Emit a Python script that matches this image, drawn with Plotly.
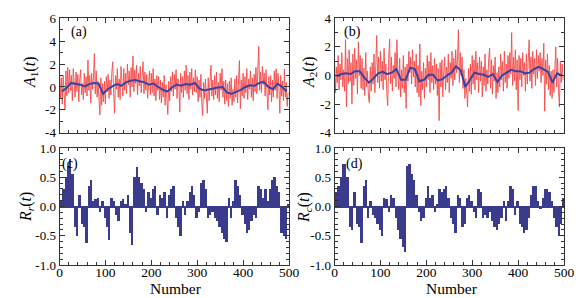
import plotly.graph_objects as go

# ---------------- data ----------------
x_raw = list(range(0, 500, 2))

a1_raw = [
    1.2, -1.0, 0.8, -1.5, 1.0, -0.6, -2.0, 1.4, -0.8, 1.7,
    -0.5, 1.5, -0.3, 1.0, -1.2, 1.6, 0.0, -0.9, 1.3, -0.4,
    1.1, -1.3, 0.6, 1.5, -0.7, 0.3, -1.1, 1.2, -0.5, 0.9,
    -0.8, 2.35, -0.3, 1.0, -1.4, 1.2, -0.2, 0.7, 2.9, -0.6,
    1.4, -0.9, 0.5, -1.2, -2.45, 0.8, -1.6, 0.3, -1.3, 0.5,
    -1.5, 0.9, -0.4, 1.1, -1.0, 0.6, -0.7, 1.3, 2.2, -0.5,
    -2.3, 1.0, -0.2, 1.6, -0.9, 0.7, -1.1, 1.8, 0.1, -0.8,
    1.6, -0.3, 1.2, -0.6, 2.0, 0.2, 1.4, -0.9, 1.7, 0.0,
    2.7, -0.4, 1.5, 0.3, 1.9, -0.7, 1.2, 0.1, 1.8, -0.5,
    0.9, 2.2, -0.6, 1.3, -0.3, 1.1, -1.0, 0.8, 1.4, -0.7,
    1.2, -0.5, 1.6, -0.8, 0.7, -1.2, 1.0, -0.3, 0.9, -1.1,
    0.6, -1.4, 0.4, -0.9, 1.0, -1.6, 0.2, -1.0, -2.4, 0.5,
    -1.2, 0.9, -0.4, 1.3, -0.8, 1.1, -0.2, 1.5, -1.0, 0.7,
    0.2, -2.2, 1.2, -0.5, 0.9, -0.9, 1.4, -0.3, 1.9, -0.6,
    1.0, -1.1, 1.3, -0.2, 1.6, -0.7, 0.8, -0.4, 1.5, -0.5,
    0.9, -1.3, 0.6, -0.9, 1.1, -1.5, -2.5, 0.4, -1.0, 0.7,
    -0.6, -2.3, 0.8, -1.2, 0.5, 1.9, -0.8, 0.6, -1.1, 1.0,
    -0.7, 1.3, -1.0, 0.4, -1.3, 1.2, -0.3, 1.6, -0.9, 0.5,
    -1.5, 0.6, -1.2, 0.3, -1.7, 0.5, -1.0, 0.8, -1.6, -0.2,
    -1.3, 0.7, -0.9, 1.0, -1.4, 0.4, 2.3, -1.9, 0.6, -0.8,
    1.2, -1.0, 0.9, -0.5, 1.6, -1.1, 0.7, -0.2, 1.4, -0.9,
    0.8, -1.2, 1.1, -0.4, 1.7, -0.6, 0.9, 3.55, -0.3, 1.3,
    -0.5, 1.8, 0.2, 1.2, -0.8, 1.5, -0.4, -2.0, 0.9, -0.7,
    1.0, -1.3, 0.6, -0.9, 1.4, -0.3, 1.6, -1.0, 1.2, 0.1,
    -2.3, 1.0, -0.8, 0.5, -1.2, 1.55, -0.9, 0.4, -1.7, -0.5,
]

a2_raw = [
    1.0, -1.2, 0.6, -0.5, 1.4, -1.0, 0.8, -0.3, 1.6, -0.8,
    0.4, -1.1, 2.5, -2.2, 1.2, -0.6, 1.8, -0.4, 0.9, -2.0,
    1.5, -0.7, 1.9, -0.2, 1.1, -1.3, 2.35, 0.0, 1.4, -0.9,
    1.2, -1.0, 0.5, -1.4, 1.6, -0.8, 0.3, -1.6, -1.9, 0.6,
    -1.1, 0.9, -0.6, 1.5, -1.2, 0.4, 2.8, -0.5, 1.3, -0.9,
    1.7, -0.4, 1.0, -1.0, 1.9, -0.3, 0.8, -1.3, -2.1, 1.1,
    2.55, -0.6, 1.3, -1.1, 0.7, -0.2, 1.6, -0.8, 2.5, 0.2,
    -1.0, 1.2, -1.5, 0.4, -0.9, 1.4, -1.2, 0.6, -2.3, 0.8,
    -0.4, 1.7, 0.2, 1.3, -0.6, 1.8, -0.1, 1.0, -0.8, 1.5,
    -1.2, 0.7, -1.5, 2.2, -2.1, 0.3, -1.0, 0.9, -1.6, 0.5,
    -0.8, 1.4, -0.3, 1.0, -1.2, 1.6, -0.5, 0.7, -1.0, 1.2,
    -0.6, 0.8, -1.4, 0.5, -3.15, 0.9, -0.8, 1.1, -1.5, 0.3,
    1.3, -1.0, 0.6, -0.5, 1.5, -1.2, 0.9, -0.2, 1.7, -0.7,
    1.2, -0.3, 1.8, 0.2, 1.1, 3.2, -0.5, 1.6, 0.0, 1.3,
    -0.9, 0.4, -1.6, -0.2, -1.4, -2.2, 0.5, -1.1, 0.8, -1.3,
    1.4, -0.6, 1.1, -1.0, 1.7, -0.3, 0.9, -1.2, 1.3, -0.4,
    1.0, -1.5, 0.6, -0.7, 1.5, -1.1, 0.4, -0.6, 1.2, 1.9,
    -0.9, 1.1, -1.3, 0.7, -0.4, 1.3, -1.6, 0.2, -1.2, 0.6,
    -0.8, 1.5, -0.3, 1.0, -1.1, 1.7, -0.5, 0.8, -0.9, 1.4,
    -0.2, 1.6, 0.1, 3.0, -0.7, 1.3, -0.4, 1.8, -1.0, 1.1,
    -2.45, 1.4, -0.3, 1.2, -0.8, 1.6, 0.0, 0.9, -1.1, 1.5,
    -0.6, 1.0, 2.5, -0.4, 1.3, -0.9, 1.7, 0.1, 1.2, -0.7,
    1.8, -0.2, 1.4, 0.3, 1.6, -0.5, 1.2, 0.0, 2.25, -2.5,
    1.1, -0.6, 1.5, -1.0, 0.7, -1.4, 0.3, -1.6, 0.4, -1.2,
    0.9, 2.0, -0.8, 1.2, -1.0, -2.2, 1.0, -0.5, 0.8, -0.3,
]

x_smooth = list(range(5, 500, 10))

a1_smooth = [
    -0.4, -0.1, 0.35, 0.3, 0.2, 0.05, 0.25, 0.35, 0.3, -0.6,
    -0.2, 0.05, 0.25, 0.1, 0.4, 0.55, 0.6, 0.5, 0.4, 0.2,
    0.3, 0.0, -0.25, -0.4, -0.05, 0.2, 0.1, 0.25, 0.2, 0.35,
    -0.15, -0.3, -0.2, -0.1, -0.05, 0.0, -0.5, -0.6, -0.45, -0.25,
    0.0, 0.15, 0.1, 0.35, 0.45, 0.0, -0.2, 0.3, 0.0, -0.4,
]

a2_smooth = [
    -0.05, 0.1, 0.15, 0.1, 0.3, 0.3, -0.15, -0.5, -0.2, 0.15,
    0.25, 0.1, 0.2, 0.45, -0.3, -0.3, 0.55, 0.45, -0.4, -0.3,
    0.05, 0.05, -0.35, -0.25, 0.0, 0.2, 0.65, 0.35, -0.8, -0.3,
    0.2, 0.1, 0.05, -0.1, 0.1, -0.45, 0.0, 0.2, 0.4, 0.3,
    0.3, 0.15, 0.2, 0.45, 0.6, 0.45, 0.25, -0.5, 0.15, 0.0,
]

x_bar = [2.5 + 5 * k for k in range(100)]

r1 = [
    0.1, 0.3, 0.5, 0.7, 0.82, 0.55, -0.35, -0.5, 0.2, -0.3,
    -0.35, -0.62, 0.35, 0.45, 0.1, 0.12, 0.15, -0.1, 0.1, -0.2,
    -0.35, -0.57, 0.15, 0.1, -0.15, -0.25, 0.1, 0.12, 0.05, 0.2,
    -0.45, -0.65, 0.5, 0.68, 0.5, 0.4, 0.3, -0.1, 0.25, 0.15,
    0.3, 0.35, -0.15, 0.2, 0.15, 0.25, -0.2, 0.2, 0.3, 0.35,
    -0.2, -0.35, -0.5, 0.1, -0.15, 0.1, 0.25, 0.35, 0.2, -0.2,
    -0.1, 0.4, 0.45, 0.3, -0.2, -0.15, -0.1, -0.2, -0.25, -0.35,
    -0.45, -0.55, -0.6, 0.15, -0.2, 0.1, 0.45, 0.35, 0.2, -0.15,
    -0.3, -0.45, -0.4, -0.25, -0.15, -0.2, 0.35, 0.3, 0.15, 0.3,
    0.1, 0.3, 0.45, 0.5, 0.35, 0.25, -0.45, -0.5, -0.55, 0.05,
]

r2 = [
    0.25, 0.35, 0.5, 0.72, 0.73, 0.5, -0.35, -0.4, 0.25, -0.3,
    -0.35, -0.62, 0.35, 0.45, -0.2, 0.1, -0.15, -0.2, -0.3, -0.4,
    -0.5, 0.15, 0.12, -0.1, 0.2, 0.15, -0.2, -0.4, -0.55, -0.7,
    -0.78, 0.7, 0.72, 0.55, 0.45, 0.2, -0.1, -0.25, -0.2, 0.15,
    0.35, 0.15, 0.2, -0.1, 0.05, 0.3, 0.25, 0.3, 0.35, 0.15,
    -0.2, -0.3, -0.45, 0.2, 0.15, -0.35, -0.3, 0.15, 0.2, 0.1,
    -0.1, -0.2, 0.3, 0.25, -0.2, -0.15, -0.2, -0.1, -0.25, -0.35,
    -0.4, -0.3, -0.2, 0.1, -0.25, 0.1, 0.35, 0.3, -0.15, 0.1,
    -0.3, -0.35, -0.45, -0.4, -0.2, 0.2, 0.35, 0.35, 0.1, -0.05,
    0.15, 0.3, 0.3, 0.25, 0.1, -0.2, -0.35, -0.5, -0.3, 0.15,
]

x_ticks = [0, 100, 200, 300, 400, 500]
x_ticktext = ["0", "100", "200", "300", "400", "500"]
a_ticks = [-4, -2, 0, 2, 4, 6]
a1_ticktext = ["-4", "-2", "0", "2", "4", "6"]
a2_ticks = [-4, -2, 0, 2, 4]
a2_ticktext = ["-4", "-2", "0", "2", "4"]
r_ticks = [-1.0, -0.5, 0.0, 0.5, 1.0]
r_ticktext = ["-1.0", "-0.5", "0.0", "0.5", "1.0"]

# ---------------- styles ----------------
RED = "#f42a2a"
BLUE_LINE = "#3a44a0"
BAR = "#3b3b8e"
FONT = "Liberation Serif"
W, H = 586, 298

fig = go.Figure()

fig.add_trace(go.Scatter(x=x_raw, y=a1_raw, mode="lines",
                         line=dict(color=RED, width=0.9), opacity=0.85,
                         xaxis="x", yaxis="y", showlegend=False))
fig.add_trace(go.Scatter(x=x_smooth, y=a1_smooth, mode="lines",
                         line=dict(color=BLUE_LINE, width=2),
                         xaxis="x", yaxis="y", showlegend=False))
fig.add_trace(go.Scatter(x=x_raw, y=a2_raw, mode="lines",
                         line=dict(color=RED, width=0.9), opacity=0.85,
                         xaxis="x2", yaxis="y2", showlegend=False))
fig.add_trace(go.Scatter(x=x_smooth, y=a2_smooth, mode="lines",
                         line=dict(color=BLUE_LINE, width=2),
                         xaxis="x2", yaxis="y2", showlegend=False))
fig.add_trace(go.Bar(x=x_bar, y=r1, width=5, marker=dict(color=BAR, line=dict(width=0)),
                     xaxis="x3", yaxis="y3", showlegend=False))
fig.add_trace(go.Bar(x=x_bar, y=r2, width=5, marker=dict(color=BAR, line=dict(width=0)),
                     xaxis="x4", yaxis="y4", showlegend=False))

left_dom = [59.5 / W, 289 / W]
right_dom = [334.5 / W, 564 / W]
top_dom = [1 - 132.7 / H, 1 - 18.3 / H]
bot_dom = [1 - 265 / H, 1 - 148 / H]

def xax(domain, anchor, labels):
    d = dict(domain=domain, anchor=anchor, range=[0, 500],
             showline=True, linecolor="#333", linewidth=1, mirror="allticks",
             ticks="inside", ticklen=5, tickcolor="#333",
             tickmode="array", tickvals=x_ticks, ticktext=x_ticktext,
             showticklabels=labels, showgrid=False, zeroline=False,
             ticklabelstandoff=-5,
             tickfont=dict(family=FONT, size=13.5, color="black"),
             minor=dict(tickmode="linear", tick0=0, dtick=20, ticklen=3,
                        ticks="inside", tickcolor="#333", showgrid=False))
    return d

def yax(domain, anchor, rng, vals, text, mdt, zl=False):
    return dict(domain=domain, anchor=anchor, range=rng,
                showline=True, linecolor="#333", linewidth=1, mirror="allticks",
                ticks="inside", ticklen=5, tickcolor="#333",
                tickmode="array", tickvals=vals, ticktext=text,
                showgrid=False, zeroline=zl, zerolinecolor=BAR, zerolinewidth=1.5,
                tickfont=dict(family=FONT, size=13, color="black"),
                minor=dict(tickmode="linear", tick0=0, dtick=mdt, ticklen=3,
                           ticks="inside", tickcolor="#333", showgrid=False))

fig.update_layout(
    autosize=True,
    margin=dict(l=0, r=0, t=0, b=0, autoexpand=False),
    paper_bgcolor="white", plot_bgcolor="white",
    bargap=0,
    font=dict(family=FONT, color="black"),
    xaxis=xax(left_dom, "y", False),
    yaxis=yax(top_dom, "x", [-4, 6], a_ticks, a1_ticktext, 1),
    xaxis2=xax(right_dom, "y2", False),
    yaxis2=yax(top_dom, "x2", [-4, 4], a2_ticks, a2_ticktext, 1),
    xaxis3=xax(left_dom, "y3", True),
    yaxis3=yax(bot_dom, "x3", [-1, 1], r_ticks, r_ticktext, 0.1, zl=True),
    xaxis4=xax(right_dom, "y4", True),
    yaxis4=yax(bot_dom, "x4", [-1, 1], r_ticks, r_ticktext, 0.1, zl=True),
)

ann = []
def add_text(px, py, text, size, angle=0):
    ann.append(dict(x=px / W, y=1 - py / H, xref="paper", yref="paper",
                    text=text, showarrow=False, textangle=angle,
                    font=dict(family=FONT, size=size, color="black"),
                    xanchor="center", yanchor="middle"))

add_text(79, 32, "(a)", 14)
add_text(352, 32, "(b)", 14)
add_text(70, 164, "(c)", 14)
add_text(354, 164, "(d)", 14)
add_text(30, 73, "<i>A</i><sub>1</sub>(<i>t</i>)", 16, -90)
add_text(309, 73, "<i>A</i><sub>2</sub>(<i>t</i>)", 16, -90)
add_text(26, 207, "<i>R</i><sub><i>r</i></sub>(<i>t</i>)", 16, -90)
add_text(304, 207, "<i>R</i><sub><i>c</i></sub>(<i>t</i>)", 16, -90)
add_text(176, 288.5, "Number", 15.5)
add_text(452, 288.5, "Number", 15.5)
fig.update_layout(annotations=ann)

post = (
    "document.documentElement.style.margin='0';"
    "document.body.style.margin='0';document.body.style.padding='0';"
    "document.documentElement.style.overflow='hidden';document.body.style.overflow='hidden';"
    "var gd=document.querySelector('.plotly-graph-div');"
    "gd.style.position='fixed';gd.style.left='0px';gd.style.top='0px';"
    "gd.style.width='100vw';gd.style.height='100vh';"
    "Plotly.Plots.resize(gd);"
)

fig.write_html("out.html", config={"displayModeBar": False, "responsive": True},
               default_width="100vw", default_height="100vh", post_script=post)
